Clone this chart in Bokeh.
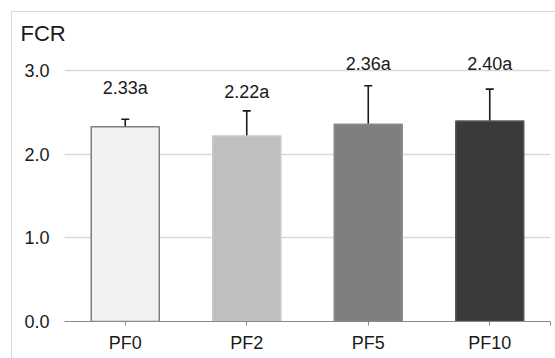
from bokeh.plotting import figure
from bokeh.models import ColumnDataSource, Range1d, FixedTicker, Whisker, TeeHead
from bokeh.core.properties import value
from bokeh.embed import file_html
from bokeh.resources import INLINE

# ---- data ----
categories = ["PF0", "PF2", "PF5", "PF10"]
fcr_mean = [2.33, 2.22, 2.36, 2.40]
fcr_err = [0.09, 0.30, 0.46, 0.38]
letters = ["a", "a", "a", "a"]
y_ticks = [0.0, 1.0, 2.0, 3.0]
y_tick_labels = ["0.0", "1.0", "2.0", "3.0"]
chart_title = "FCR"

# ---- styles ----
fills = ["#F2F2F2", "#BFBFBF", "#7F7F7F", "#3A3A38"]
outlines = ["#7F7F7F", "#C9C9C9", "#8C8C8C", "#5A5A5A"]
label_heights = [2.795, 2.743, 3.08, 3.08]
FONT = "Liberation Sans"
TXT = "#1a1a1a"
BORDER = "#D9D9D9"

xs = [i + 0.5 for i in range(len(categories))]
src = ColumnDataSource(dict(
    x=xs, top=fcr_mean, upper=[m + e for m, e in zip(fcr_mean, fcr_err)],
    fill=fills, line=outlines,
    label=[f"{m:.2f}{l}" for m, l in zip(fcr_mean, letters)],
    ly=label_heights,
))

outer_border_css = (
    f"linear-gradient({BORDER},{BORDER}) 11px 11px / 1px 100% no-repeat, "
    f"linear-gradient({BORDER},{BORDER}) 11px 11px / 100% 1px no-repeat, white"
)

p = figure(width=555, height=358, output_backend="svg", toolbar_location=None,
           x_range=Range1d(0, len(categories)), y_range=Range1d(0, 3.266),
           min_border_left=64, min_border_right=5, min_border_top=48, min_border_bottom=37,
           styles={"background": outer_border_css})
p.outline_line_color = None
p.background_fill_color = "white"
p.border_fill_color = None

p.vbar(x="x", top="top", bottom=0, width=0.56, source=src,
       fill_color="fill", line_color="line", line_width=1.5)

p.add_layout(Whisker(base="x", upper="upper", lower="top", source=src,
                     dimension="height", line_color="#1a1a1a", line_width=1.6,
                     upper_head=TeeHead(size=8, line_color="#1a1a1a", line_width=1.6),
                     lower_head=None))

p.text(x="x", y="ly", text="label", source=src, text_align="center",
       text_baseline="middle", text_font=value(FONT), text_font_size="18px",
       text_color=TXT)

# title "FCR"
p.title.text = chart_title
p.title.align = "left"
p.title.offset = -44
p.title.standoff = 6
p.title.text_font = FONT
p.title.text_font_size = "22px"
p.title.text_font_style = "normal"
p.title.text_color = TXT

# x axis
xa = p.xaxis[0]
xa.ticker = FixedTicker(ticks=xs + [len(categories)])
overrides = {x: c for x, c in zip(xs, categories)}
overrides[len(categories)] = ""
xa.major_label_overrides = overrides
xa.major_tick_out = 4
xa.major_tick_in = 0
xa.minor_tick_line_color = None
xa.axis_line_color = "#898989"
xa.major_tick_line_color = "#898989"
xa.axis_line_width = 1.2
xa.major_label_text_font = FONT
xa.major_label_text_font_size = "18px"
xa.major_label_text_color = TXT
xa.major_label_standoff = 7

# y axis
ya = p.yaxis[0]
ya.ticker = FixedTicker(ticks=y_ticks)
ya.major_label_overrides = {t: s for t, s in zip(y_ticks, y_tick_labels)}
ya.axis_line_color = None
ya.major_tick_line_color = None
ya.minor_tick_line_color = None
ya.major_tick_out = 0
ya.major_tick_in = 0
ya.major_label_standoff = 15
ya.major_label_text_font = FONT
ya.major_label_text_font_size = "18px"
ya.major_label_text_color = TXT

p.xgrid.grid_line_color = None
p.ygrid.ticker = FixedTicker(ticks=[1.0, 2.0, 3.0])
p.ygrid.grid_line_color = "#D9D9D9"
p.ygrid.grid_line_width = 1.5

open("out.html", "w").write(file_html(p, INLINE))
